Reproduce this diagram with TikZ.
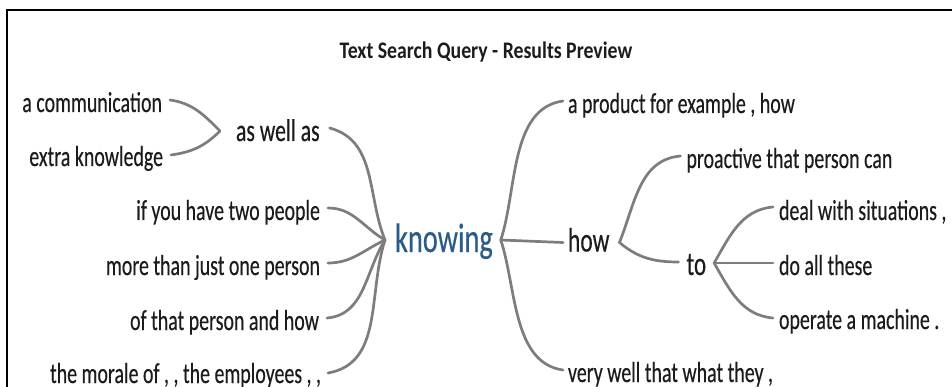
\documentclass[tikz,border=0pt]{standalone}
\usepackage{fontspec}
\setmainfont{Carlito}
\newfontfamily\treefont{Carlito}[FakeBold=0.45]
\usepackage{graphicx}

\definecolor{linkgray}{RGB}{125,125,125}
\definecolor{inkdark}{RGB}{28,28,28}
\definecolor{rootblue}{RGB}{42,92,138}

% tall, narrow lettering of the tree
\newcommand\tallbox[1]{\scalebox{1}[1.45]{#1}}

\begin{document}
\begin{tikzpicture}[x=1pt,y=1pt,
  word/.style={inner sep=0pt, outer sep=0pt, text=inkdark,
    font=\treefont\fontsize{19.9}{24}\selectfont},
  leftword/.style={word, anchor=base east},
  rightword/.style={word, anchor=base west},
  link/.style={draw=linkgray, line width=2.7pt, line cap=round},
]
\useasboundingbox (0,0) rectangle (952,-387);

% frame
\draw[line width=1.8pt] (7,-390) -- (7,-10) -- (955,-10);

% title
\node[word, anchor=base, font=\bfseries\fontsize{19.8}{24}\selectfont]
  (title) at (486,-58.3) {\scalebox{1}[1.2]{Text Search Query - Results Preview}};

% root word
\node[word, anchor=base west, text=rootblue, font=\treefont\fontsize{28.4}{32}\selectfont]
  (root) at (395,-252) {\tallbox{knowing}};

% left branch
\node[leftword] (com)    at (162,-112) {\tallbox{a communication}};
\node[leftword] (extra)  at (163,-166) {\tallbox{extra knowledge}};
\node[rightword, font=\treefont\fontsize{21.7}{26}\selectfont] (aswell) at (236,-141) {\tallbox{as well as}};
\node[leftword] (ifyou)  at (320,-220) {\tallbox{if you have two people}};
\node[leftword] (more)   at (320,-275) {\tallbox{more than just one person}};
\node[leftword] (ofthat) at (319,-330) {\tallbox{of that person and how}};
\node[leftword] (morale) at (321,-383) {\tallbox{the morale of , , the employees , ,}};

% right branch
\node[rightword] (product) at (568,-113) {\tallbox{a product for example , how}};
\node[rightword, font=\treefont\fontsize{23.5}{28}\selectfont] (how) at (568,-251.5) {\tallbox{how}};
\node[rightword] (proactive) at (686.5,-168) {\tallbox{proactive that person can}};
\node[rightword, font=\treefont\fontsize{23}{28}\selectfont] (to) at (686.5,-275) {\tallbox{to}};
\node[rightword] (deal)    at (779,-220) {\tallbox{deal with situations ,}};
\node[rightword] (doall)   at (779,-275) {\tallbox{do all these}};
\node[rightword] (operate) at (779,-329) {\tallbox{operate a machine .}};
\node[rightword] (verywell) at (568,-382) {\tallbox{very well that what they ,}};

% junction points
\coordinate (rootL) at ([xshift=-10pt,yshift=12pt]root.base west);
\coordinate (rootR) at ([xshift=8pt,yshift=12pt]root.base east);
\coordinate (aswellL) at ([xshift=-16pt,yshift=10pt]aswell.base west);
\coordinate (aswellR) at ([xshift=10pt,yshift=13pt]aswell.base east);
\coordinate (howR) at ([xshift=10pt,yshift=9pt]how.base east);
\coordinate (howL) at ([xshift=-5pt,yshift=9pt]how.base west);
\coordinate (toR) at ([xshift=8pt,yshift=12pt]to.base east);
\coordinate (toL) at ([xshift=-8pt,yshift=13pt]to.base west);

% left connectors
\draw[link] (rootL) to[out=112, in=-15] (aswellR);
\draw[link] (rootL) to[out=150, in=0]   ([xshift=8pt,yshift=12pt]ifyou.base east);
\draw[link] (rootL) to[out=-155, in=0]  ([xshift=8pt,yshift=12pt]more.base east);
\draw[link] (rootL) to[out=-122, in=5]  ([xshift=8pt,yshift=12pt]ofthat.base east);
\draw[link] (rootL) to[out=-108, in=10] ([xshift=7pt,yshift=10pt]morale.base east);
\draw[link] (aswellL) to[out=135, in=-8] ([xshift=8pt,yshift=12pt]com.base east);
\draw[link] (aswellL) to[out=-135, in=8] ([xshift=8pt,yshift=11pt]extra.base east);

% right connectors
\draw[link] (rootR) to[out=72, in=188, looseness=0.9] ([xshift=-5pt,yshift=12pt]product.base west);
\draw[link] (rootR) -- (howL);
\draw[link] (rootR) to[out=-72, in=172, looseness=0.9] ([xshift=-5pt,yshift=12pt]verywell.base west);
\draw[link] (howR) to[out=68, in=185] ([xshift=-6pt,yshift=12pt]proactive.base west);
\draw[link] (howR) to[out=-40, in=180] (toL);
\draw[link] (toR) to[out=60, in=185] ([xshift=-6pt,yshift=13pt]deal.base west);
\draw[link] (toR) -- ([xshift=-6pt,yshift=12pt]doall.base west);
\draw[link] (toR) to[out=-60, in=175] ([xshift=-6pt,yshift=11pt]operate.base west);
\end{tikzpicture}
\end{document}
